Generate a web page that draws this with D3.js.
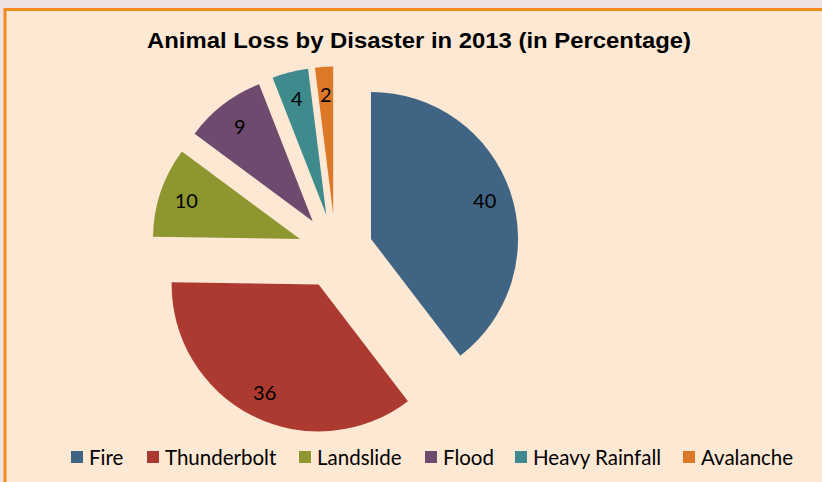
<!DOCTYPE html>
<html><head><meta charset="utf-8">
<script src="https://cdn.jsdelivr.net/npm/d3@7"></script>
<style>
html,body{margin:0;padding:0;background:#EFE3E2;}
svg{display:block;}
</style></head>
<body>
<svg id="c" width="822" height="482"></svg>
<script>
const title = "Animal Loss by Disaster in 2013 (in Percentage)";
const categories = ["Fire","Thunderbolt","Landslide","Flood","Heavy Rainfall","Avalanche"];
const values = [40, 36, 10, 9, 4, 2];
const colors = ["#406483","#AC3A30","#8D962F","#6E4A6E","#3E8A8C","#DC7828"];

const svg = d3.select("#c");
svg.append("rect").attr("x",5).attr("y",9.5).attr("width",830).attr("height",490)
  .attr("fill","#FDE8D4").attr("stroke","#F08A1C").attr("stroke-width",3);

svg.append("text").attr("x",419).attr("y",48).attr("text-anchor","middle")
  .attr("font-family","Liberation Sans, Arial, sans-serif").attr("font-weight","bold")
  .attr("font-size",22.5).attr("textLength",544).attr("lengthAdjust","spacingAndGlyphs")
  .attr("fill","#000").text(title);

const cx = 335.5, cy = 251, R = 147, explode = 37.5, labelR = 120;
const pie = d3.pie().sort(null).value(d => d).startAngle(0).endAngle(2*Math.PI);
const arcs = pie(values);
const arc = d3.arc().innerRadius(0).outerRadius(R);
const color = d3.scaleOrdinal().domain(categories).range(colors);

const g = svg.append("g").attr("transform",`translate(${cx},${cy})`);
const sl = g.selectAll("g.slice").data(arcs).enter().append("g")
  .attr("transform", d => {
    const m = (d.startAngle + d.endAngle)/2;
    return `translate(${explode*Math.sin(m)},${-explode*Math.cos(m)})`;
  });
sl.append("path").attr("d", arc).attr("fill",(d,i)=>color(categories[i]));
sl.append("text")
  .attr("x", d => labelR*Math.sin((d.startAngle+d.endAngle)/2))
  .attr("y", d => -labelR*Math.cos((d.startAngle+d.endAngle)/2))
  .attr("text-anchor","middle").attr("dominant-baseline","central")
  .attr("font-family","Lato, sans-serif").attr("font-size",20).attr("fill","#000")
  .text(d => d.data);

const legX = [71, 147, 299, 425, 515, 683];
const leg = svg.append("g");
categories.forEach((c,i)=>{
  leg.append("rect").attr("x",legX[i]).attr("y",451).attr("width",12).attr("height",12)
    .attr("fill",color(c));
  leg.append("text").attr("x",legX[i]+18).attr("y",457).attr("dominant-baseline","central")
    .attr("font-family","Lato, sans-serif").attr("font-size",20.5).attr("fill","#000").text(c);
});
</script>
</body></html>
